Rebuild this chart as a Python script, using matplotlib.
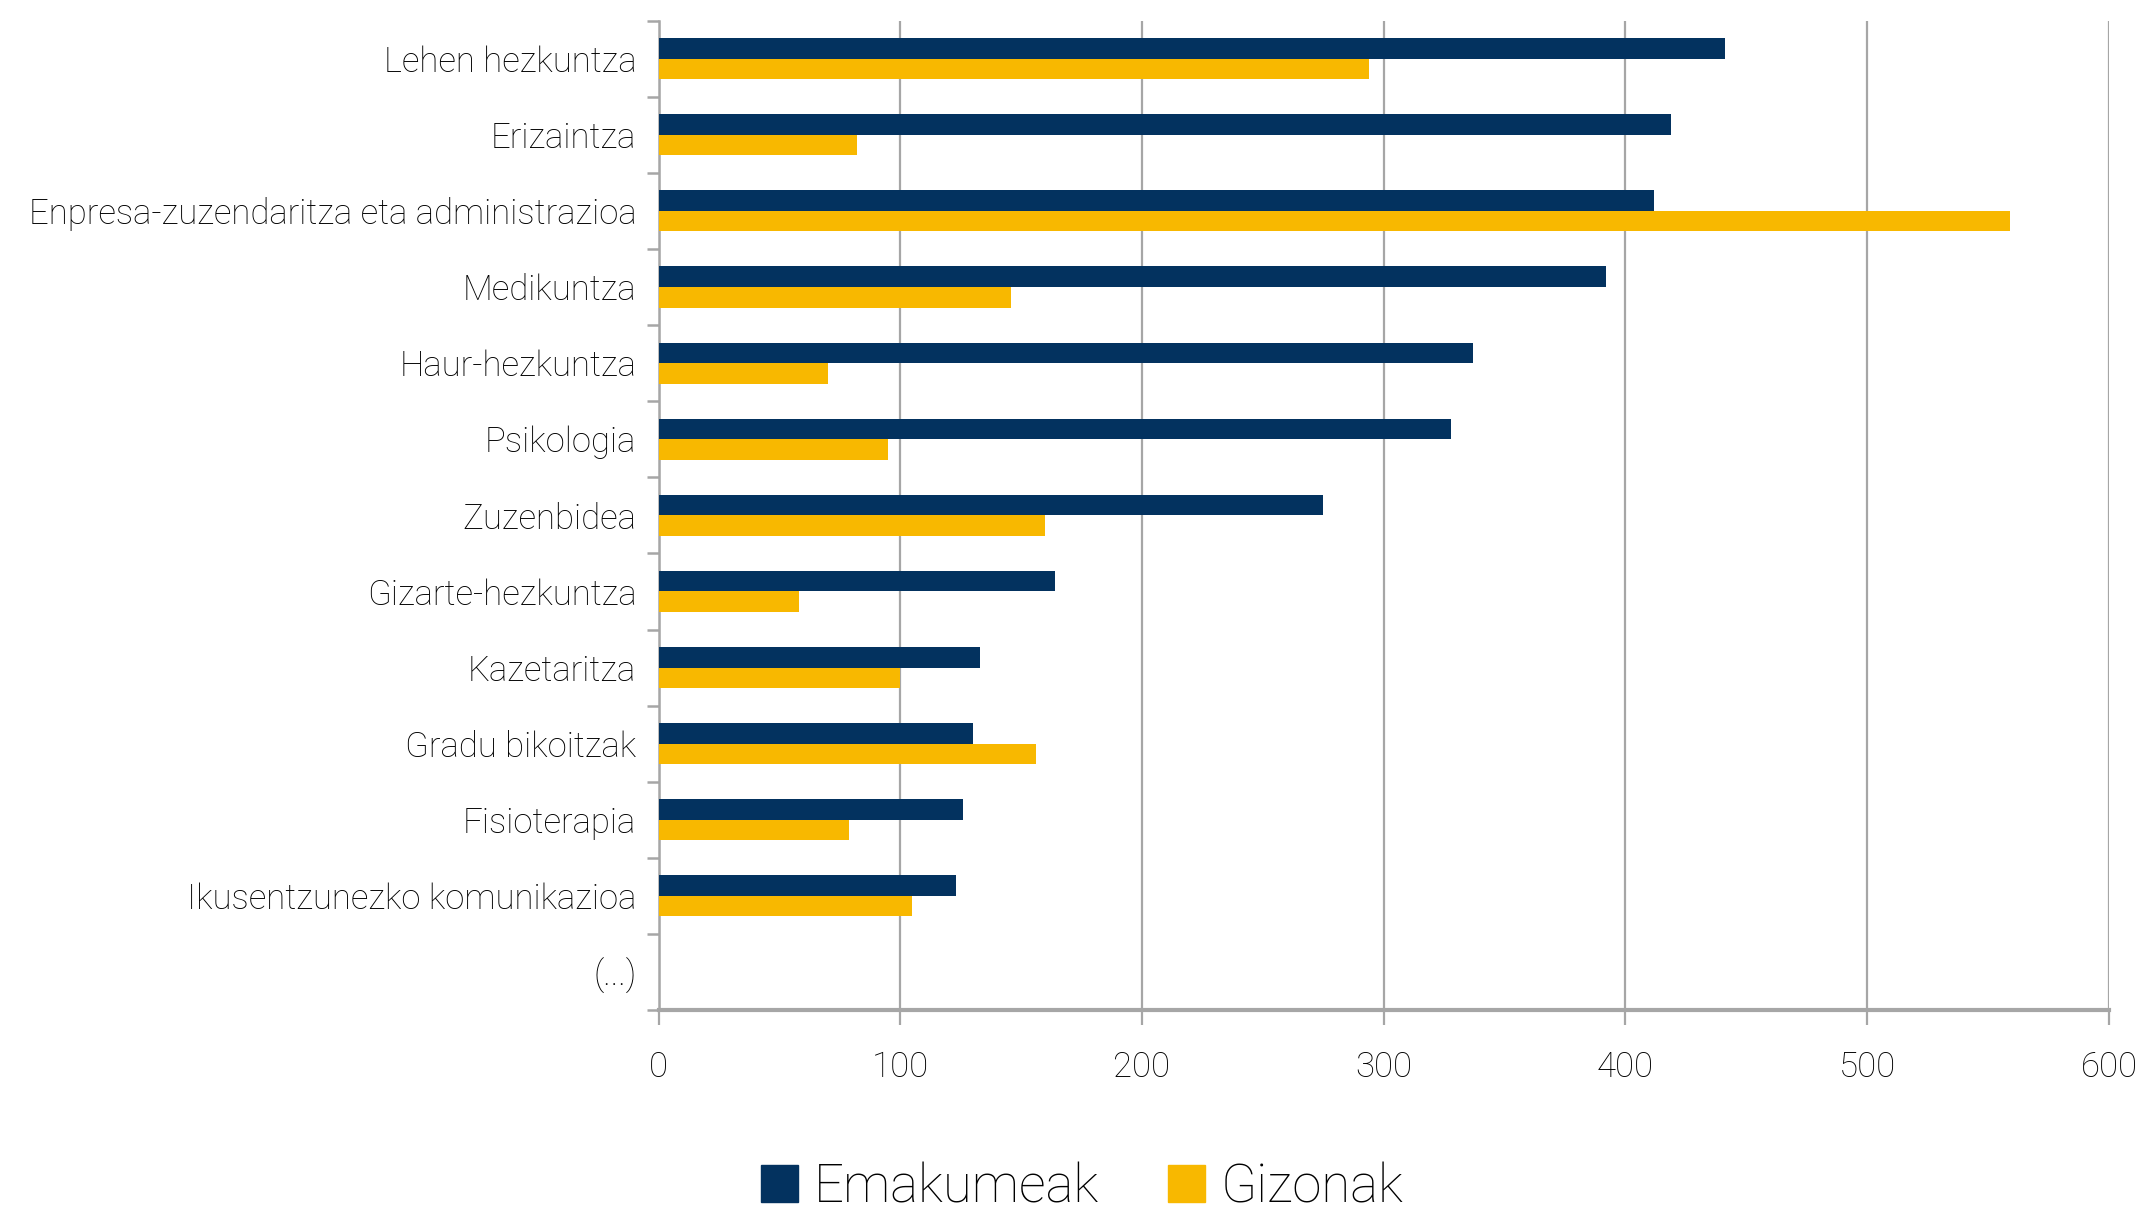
import numpy as np
import matplotlib
matplotlib.use("Agg")
import matplotlib.pyplot as plt
from matplotlib.patches import Patch

plt.rcParams['font.family'] = ['Roboto', 'DejaVu Sans']
plt.rcParams['font.weight'] = 'light'

# Categories (top to bottom) and values
categories = ["Lehen hezkuntza", "Erizaintza", "Enpresa-zuzendaritza eta administrazioa",
              "Medikuntza", "Haur-hezkuntza", "Psikologia", "Zuzenbidea",
              "Gizarte-hezkuntza", "Kazetaritza", "Gradu bikoitzak", "Fisioterapia",
              "Ikusentzunezko komunikazioa", "(...)"]
emakumeak = [441, 419, 412, 392, 337, 328, 275, 164, 133, 130, 126, 123, np.nan]
gizonak = [294, 82, 559, 146, 70, 95, 160, 58, 100, 156, 79, 105, np.nan]
xticks = [0, 100, 200, 300, 400, 500, 600]

navy = '#03325F'
yellow = '#F8B800'
grid_col = '#A6A6A6'

fig = plt.figure(figsize=(21.52, 12.14), dpi=100)
ax = fig.add_axes([0.306, 0.168, 0.674, 0.815])

y = np.arange(len(categories))
h = 0.27
ax.barh(y - h / 2, emakumeak, height=h, color=navy, label='Emakumeak', zorder=3)
ax.barh(y + h / 2, gizonak, height=h, color=yellow, label='Gizonak', zorder=3)

ax.set_ylim(len(categories) - 0.5, -0.5)
ax.set_xlim(0, 600)
ax.set_xticks(xticks)
ax.set_xticklabels([str(t) for t in xticks])
ax.set_yticks(y)
ax.set_yticklabels(categories)
ax.set_yticks(np.arange(len(categories) + 1) - 0.5, minor=True)

ax.grid(axis='x', color=grid_col, linewidth=1.6, zorder=0)
for s in ['top', 'right']:
    ax.spines[s].set_visible(False)
ax.spines['left'].set_color(grid_col)
ax.spines['left'].set_linewidth(1.8)
ax.spines['bottom'].set_color(grid_col)
ax.spines['bottom'].set_linewidth(3)

ax.tick_params(axis='y', which='major', length=0, pad=16, labelsize=25, labelcolor='#000000')
ax.tick_params(axis='y', which='minor', length=9, width=1.8, color=grid_col)
ax.tick_params(axis='x', length=11, width=1.6, color=grid_col, pad=18, labelsize=25,
               labelcolor='#000000')

handles = [Patch(color=navy, label='Emakumeak'), Patch(color=yellow, label='Gizonak')]
leg = fig.legend(handles=handles, loc='center', bbox_to_anchor=(0.503, 0.022), ncol=2,
                 frameon=False, fontsize=38, handlelength=0.7, handleheight=0.7,
                 handletextpad=0.3, columnspacing=1.3)
for t in leg.get_texts():
    t.set_color('#000000')

fig.savefig('out.png', dpi=100)
